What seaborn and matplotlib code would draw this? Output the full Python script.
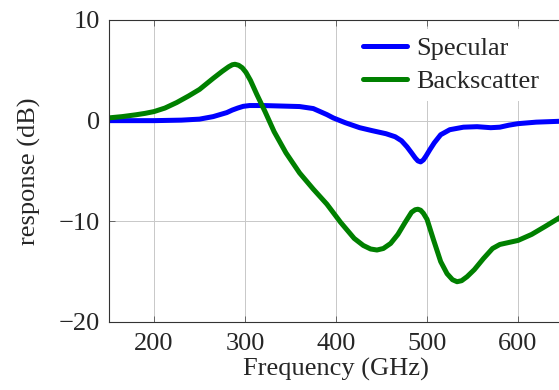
import numpy as np
import pandas as pd
import seaborn as sns
import matplotlib.pyplot as plt

# values
freq_spec = [150, 200, 230, 250, 265, 280, 286, 292, 298, 305, 320, 340, 360, 375, 390,
             397, 410, 426, 440, 455, 465, 472, 478, 483, 487, 490, 493, 496, 499, 503,
             508, 515, 525, 540, 555, 570, 580, 590, 600, 620, 650]
spec_db = [0.0, 0.0, 0.05, 0.15, 0.4, 0.8, 1.05, 1.25, 1.42, 1.5, 1.5, 1.45, 1.4, 1.2, 0.6,
           0.27, -0.2, -0.7, -1.0, -1.3, -1.6, -2.0, -2.6, -3.2, -3.7, -4.0, -4.1, -3.9,
           -3.5, -2.9, -2.2, -1.4, -0.9, -0.65, -0.6, -0.7, -0.65, -0.45, -0.3, -0.15,
           -0.05]

freq_back = [150, 165, 180, 190, 200, 212, 225, 238, 250, 265, 275, 282, 286, 289, 293,
             297, 301, 306, 313, 322, 332, 345, 360, 375, 390, 405, 420, 430, 438, 445,
             452, 460, 468, 476, 483, 487, 490, 493, 496, 500, 507, 515, 522, 528, 533,
             538, 544, 552, 562, 572, 580, 590, 600, 615, 630, 650]
back_db = [0.27, 0.4, 0.58, 0.72, 0.9, 1.25, 1.8, 2.45, 3.1, 4.2, 4.9, 5.35, 5.55, 5.6,
           5.5, 5.25, 4.8, 4.0, 2.6, 0.9, -1.1, -3.2, -5.2, -6.8, -8.3, -10.1, -11.7,
           -12.4, -12.75, -12.85, -12.7, -12.2, -11.3, -10.1, -9.1, -8.85, -8.8, -8.9,
           -9.2, -9.8, -11.8, -14.0, -15.2, -15.8, -16.0, -15.9, -15.5, -14.8, -13.7,
           -12.7, -12.3, -12.1, -11.9, -11.3, -10.5, -9.4]

df = pd.concat([
    pd.DataFrame({"freq": freq_spec, "resp": spec_db, "series": "Specular"}),
    pd.DataFrame({"freq": freq_back, "resp": back_db, "series": "Backscatter"}),
])

sns.set_style("white")
plt.rcParams['font.family'] = ['Liberation Serif', 'DejaVu Serif']

fig = plt.figure(figsize=(5.59, 3.90), dpi=100)
ax = fig.add_axes([0.1941, 0.1744, 0.8140, 0.7744])

sns.lineplot(data=df, x="freq", y="resp", hue="series",
             palette={"Specular": "#0000ff", "Backscatter": "#008000"},
             linewidth=3.6, ax=ax, sort=False)
for ln in ax.get_lines():
    ln.set_solid_joinstyle("round")

ax.set_xlim(150, 650)
ax.set_ylim(-20, 10)
ax.set_xticks([200, 300, 400, 500, 600])
ax.set_yticks([-20, -10, 0, 10])
ax.grid(True, color="#c8c8c8", linewidth=0.7)
ax.set_axisbelow(True)
for s in ax.spines.values():
    s.set_color("#333333")
    s.set_linewidth(0.8)
ax.tick_params(direction="in", length=4, width=0.6, color="#555555",
               top=True, right=True, bottom=True, left=True, labelsize=19)
ax.tick_params(axis="x", pad=8)
ax.tick_params(axis="y", pad=6)
ax.set_xlabel("Frequency (GHz)", fontsize=19, labelpad=2)
ax.set_ylabel("response (dB)", fontsize=19, labelpad=13)

handles, labels = ax.get_legend_handles_labels()
leg = ax.legend(handles, labels, loc="upper left", bbox_to_anchor=(0.513, 1.015),
                fontsize=19, frameon=True, framealpha=1, edgecolor="none",
                facecolor="white", handlelength=1.65, handletextpad=0.35,
                labelspacing=0.36, borderpad=0.3, fancybox=False)
for ln in leg.get_lines():
    ln.set_linewidth(3.6)

fig.savefig("out.png", dpi=100)
